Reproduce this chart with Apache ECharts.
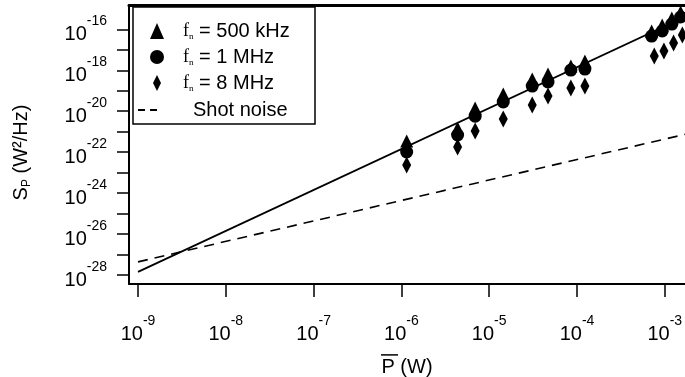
<!DOCTYPE html>
<html>
<head>
<meta charset="utf-8">
<script src="https://cdn.jsdelivr.net/npm/echarts@6/dist/echarts.min.js"></script>
<style>
    html, body { margin: 0; padding: 0; background: #fff; }
    #chart { width: 685px; height: 377px; }
</style>
</head>
<body>
<div id="chart"></div>
<script>
// every value below is log10 of the quantity (P in W, S_P in W^2/Hz)
var powerLog = [-5.94, -5.36, -5.16, -4.84, -4.51, -4.33, -4.07, -3.91, -3.15, -3.03, -2.92, -2.82];
var s500kLog = [-21.46, -20.82, -19.84, -19.16, -18.43, -18.18, -17.79, -17.55, -16.08, -15.79, -15.45, -15.15];
var s1MLog = [-21.99, -21.16, -20.24, -19.55, -18.77, -18.57, -17.99, -17.94, -16.33, -16.08, -15.74, -15.40];
var power8MLog = [-5.94, -5.36, -5.16, -4.84, -4.51, -4.33, -4.07, -3.91, -3.12, -3.01, -2.90, -2.80];
var s8MLog = [-22.63, -21.75, -20.97, -20.38, -19.70, -19.26, -18.87, -18.77, -17.30, -17.06, -16.67, -16.28];

var fitPLog = [-9, -2.77];
var fitSLog = [-27.85, -15.39];
var shotPLog = [-9, -2.77];
var shotSLog = [-27.36, -21.13];

var xTicks = [-9, -8, -7, -6, -5, -4, -3];
var yTicks = [-28, -27, -26, -25, -24, -23, -22, -21, -20, -19, -18, -17, -16];
var yLabels = [-28, -26, -24, -22, -20, -18, -16];

var FONT = '"Liberation Sans", Arial, sans-serif';

function pairs(xs, ys) {
    var out = [];
    for (var i = 0; i < xs.length; i++) {
        out.push([xs[i], ys[i]]);
    }
    return out;
}

function expLabel(v) {
    return '{b|10}{s|' + Math.round(v) + '}';
}

var expRich = {
    b: { fontFamily: FONT, fontSize: 20, lineHeight: 18, verticalAlign: 'bottom', color: '#000' },
    s: { fontFamily: FONT, fontSize: 14, verticalAlign: 'top', padding: [0, 0, 16, 0], color: '#000' }
};

function legendText(name) {
    if (name === 'Shot noise')
        return '{sp2|}{t|Shot noise}';
    return '{sp|}{f|f}{n|n}{t| = ' + name + '}';
}

var legendRich = {
    sp: { width: 14 },
    sp2: { width: 31 },
    f: { fontFamily: '"Liberation Serif", serif', fontSize: 18, lineHeight: 21, color: '#000' },
    n: { fontFamily: '"Liberation Serif", serif', fontSize: 9, lineHeight: 13, verticalAlign: 'bottom', color: '#000' },
    t: { fontFamily: FONT, fontSize: 20, lineHeight: 21, color: '#000' }
};

var myChart = echarts.init(document.getElementById('chart'));

var option = {
    animation: false,
    backgroundColor: '#fff',
    grid: {
        left: 129,
        right: 0,
        top: 5,
        bottom: 93,
        containLabel: false,
        outerBoundsMode: 'none'
    },
    graphic: [{
        type: 'rect',
        z: 3,
        shape: { x: 133, y: 7, width: 182, height: 117 },
        style: { fill: '#fff', stroke: '#000', lineWidth: 1.5 }
    }],
    legend: [{
        orient: 'vertical',
        left: 150,
        top: 21,
        padding: 0,
        itemGap: 5.5,
        itemWidth: 14,
        itemHeight: 16,
        selectedMode: false,
        z: 5,
        formatter: legendText,
        textStyle: { rich: legendRich },
        data: [
            { name: '500 kHz', icon: 'triangle' },
            { name: '1 MHz', icon: 'circle' },
            { name: '8 MHz', icon: 'path://M4,0L8,8L4,16L0,8Z' }
        ]
    }, {
        orient: 'vertical',
        left: 138,
        top: 100,
        padding: 0,
        itemWidth: 19,
        itemHeight: 12,
        selectedMode: false,
        z: 5,
        formatter: legendText,
        textStyle: { rich: legendRich },
        data: [{ name: 'Shot noise', icon: 'path://M0,0H7V2H0Z M12,0H19V2H12Z' }]
    }],
    xAxis: [{
        type: 'value',
        min: -9.1025,
        max: -2.77,
        position: 'bottom',
        name: '{bar|}{gap|}\n{t|P (W)}',
        nameLocation: 'middle',
        nameGap: 63,
        nameTextStyle: {
            rich: {
                bar: { width: 17, height: 1.5, backgroundColor: '#000' },
                gap: { width: 35, height: 1.5 },
                t: { fontFamily: FONT, fontSize: 20, lineHeight: 24, color: '#000' }
            }
        },
        axisLine: { show: true, lineStyle: { color: '#000', width: 2 } },
        axisTick: { show: true, customValues: xTicks, length: 13, lineStyle: { color: '#000', width: 1.5 } },
        axisLabel: { customValues: xTicks, margin: 30, formatter: expLabel, rich: expRich },
        splitLine: { show: false }
    }, {
        type: 'value',
        min: -9.1025,
        max: -2.77,
        position: 'top',
        axisLine: { show: true, lineStyle: { color: '#000', width: 3 } },
        axisTick: { show: false },
        axisLabel: { show: false },
        splitLine: { show: false }
    }],
    yAxis: {
        type: 'value',
        min: -28.44,
        max: -14.81,
        name: '{a|S}{p|P}{a| (W²/Hz)}',
        nameLocation: 'middle',
        nameRotate: 90,
        nameGap: 96,
        nameTextStyle: {
            padding: [0, 16, 0, 0],
            rich: {
                a: { fontFamily: FONT, fontSize: 20, lineHeight: 24, color: '#000' },
                p: { fontFamily: FONT, fontSize: 12, lineHeight: 18, verticalAlign: 'bottom', color: '#000' }
            }
        },
        axisLine: { show: true, lineStyle: { color: '#000', width: 2 } },
        axisTick: { show: true, customValues: yTicks, length: 12, lineStyle: { color: '#000', width: 1.5 } },
        axisLabel: { customValues: yLabels, margin: 22, formatter: expLabel, rich: expRich },
        splitLine: { show: false }
    },
    series: [
        {
            name: 'fit',
            type: 'line',
            data: pairs(fitPLog, fitSLog),
            symbol: 'none',
            silent: true,
            z: 2,
            lineStyle: { color: '#000', width: 1.8 }
        },
        {
            name: 'Shot noise',
            type: 'line',
            data: pairs(shotPLog, shotSLog),
            symbol: 'none',
            silent: true,
            z: 2,
            itemStyle: { color: '#000' },
            lineStyle: { color: '#000', width: 1.6, type: [10, 7] }
        },
        {
            name: '8 MHz',
            type: 'scatter',
            symbol: 'diamond',
            symbolSize: [9, 17],
            z: 3,
            itemStyle: { color: '#000', opacity: 1 },
            data: pairs(power8MLog, s8MLog)
        },
        {
            name: '1 MHz',
            type: 'scatter',
            symbol: 'circle',
            symbolSize: 13,
            z: 3,
            itemStyle: { color: '#000', opacity: 1 },
            data: pairs(powerLog, s1MLog)
        },
        {
            name: '500 kHz',
            type: 'scatter',
            symbol: 'triangle',
            symbolSize: [13, 13],
            z: 3,
            itemStyle: { color: '#000', opacity: 1 },
            data: pairs(powerLog, s500kLog)
        }
    ]
};

myChart.setOption(option);
</script>
</body>
</html>
